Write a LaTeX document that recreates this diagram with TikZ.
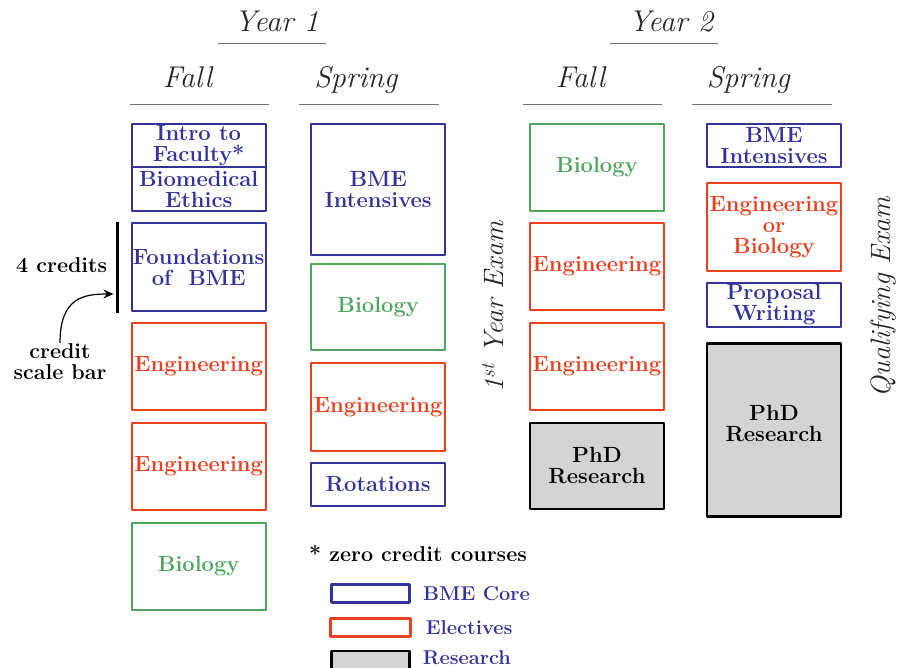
\documentclass[tikz,border=0pt]{standalone}
\usetikzlibrary{positioning,arrows.meta}
\definecolor{corebl}{RGB}{51,51,153}
\definecolor{elecred}{RGB}{232,64,32}
\definecolor{biogrn}{RGB}{80,165,95}
\definecolor{resgray}{RGB}{212,212,212}
\tikzset{
  course/.style={draw,line width=2pt,minimum width=134pt,inner sep=1pt,align=center,
    font=\fontsize{22}{21}\selectfont\bfseries},
  core/.style={course,draw=corebl,text=corebl},
  elec/.style={course,draw=elecred,text=elecred},
  bio/.style={course,draw=biogrn,text=biogrn},
  res/.style={course,draw=black,line width=2.5pt,fill=resgray,text=black},
  term/.style={font=\fontsize{30}{34}\selectfont\itshape,text=black!85,inner sep=0pt},
  exam/.style={term,font=\fontsize{28}{32}\selectfont\itshape},
  rule/.style={draw=black!55,line width=1.3pt},
  note/.style={font=\fontsize{21.5}{21}\selectfont\bfseries,align=center,inner sep=1pt},
  key/.style={minimum width=78pt,minimum height=17.7pt,line width=3pt,inner sep=0pt},
  keytext/.style={font=\fontsize{20}{22}\selectfont\bfseries,text=corebl,inner sep=0pt}
}
\begin{document}
\begin{tikzpicture}[x=1pt,y=-1pt,>={Stealth[length=10pt,width=9pt]},line join=round]
	\useasboundingbox (0,0) rectangle (904,668);
	% Cot cho moi hoc ky
	\def\xfa{198.7}
	\def\xsa{378.2}
	\def\xfb{597}
	\def\xsb{774}
	% Tieu de nam va hoc ky
	\node [term,anchor=base] (yearone) at (276.7,31.7) {Year 1};
	\node [term,anchor=base] (yeartwo) at (670.8,31.7) {Year 2};
	\node [term,anchor=base] (fallone) at (187.5,88) {Fall};
	\node [term,anchor=base] (springone) at (355.8,88) {Spring};
	\node [term,anchor=base] (falltwo) at (580.5,88) {Fall};
	\node [term,anchor=base] (springtwo) at (748.3,88) {Spring};
	\draw [rule] (217.7,43.7)--(326,43.7) (610,43.7)--(718,43.7);
	\draw [rule] (130,104.3)--(269.3,104.3) (299.3,104.3)--(439.3,104.3)
		(522.7,104.3)--(662.3,104.3) (692,104.3)--(831.7,104.3);
	% Nam 1, hoc ky mua thu
	\node [core,minimum height=43.3pt] (intro) at (\xfa,145.35) {Intro to\\Faculty*};
	\node [core,minimum height=44.3pt] (ethics) at (\xfa,189.15) {Biomedical\\Ethics};
	\node [core,minimum height=87.7pt] (found) at (\xfa,267.2) {Foundations\\of~ BME};
	\node [elec,minimum height=87pt] (engfa) at (\xfa,366.5) {Engineering};
	\node [elec,minimum height=87pt] (engfb) at (\xfa,466.5) {Engineering};
	\node [bio,minimum height=87pt] (biofa) at (\xfa,566.2) {Biology};
	% Nam 1, hoc ky mua xuan
	\node [core,minimum height=131.3pt] (intensa) at (\xsa,189.4) {BME\\Intensives};
	\node [bio,minimum height=86.3pt] (biosa) at (\xsa,306.9) {Biology};
	\node [elec,minimum height=87.7pt] (engsa) at (\xsa,406.9) {Engineering};
	\node [core,minimum height=43pt] (rot) at (\xsa,484.2) {Rotations};
	% Nam 2, hoc ky mua thu
	\node [bio,minimum height=87pt] (biofb) at (\xfb,167.2) {Biology};
	\node [elec,minimum height=87pt] (engfc) at (\xfb,266.5) {Engineering};
	\node [elec,minimum height=87pt] (engfd) at (\xfb,366.5) {Engineering};
	\node [res,minimum height=86pt] (phdfb) at (\xfb,465.9) {PhD\\Research};
	% Nam 2, hoc ky mua xuan
	\node [core,minimum height=43.6pt] (intensb) at (\xsb,145.5) {BME\\Intensives};
	\node [elec,minimum height=88.6pt] (engbio) at (\xsb,227) {Engineering\\or\\Biology};
	\node [core,minimum height=44.6pt] (prop) at (\xsb,305) {Proposal\\Writing};
	\node [res,minimum height=173.2pt,text depth=14pt] (phdsb) at (\xsb,429.9) {PhD\\Research};
	% Cac ky thi
	\node [exam,rotate=90] (firstexam) at (493,307) {1\textsuperscript{st} Year Exam};
	\node [exam,rotate=90] (qualexam) at (883,297) {Qualifying Exam};
	% Thang do tin chi
	\coordinate (bartop) at (117.7,222);
	\coordinate (barbot) at (117.7,313);
	\coordinate (bararrow) at (113.5,294);
	\draw [line width=2.5pt] (bartop)--(barbot);
	\node [note] (credits) at (61.7,265) {4 credits};
	\node [note] (scale) at (60,362) {credit\\scale bar};
	\draw [->,line width=1.2pt] (scale.north) .. controls +(0,-45) and +(-30,0) .. (bararrow);
	% Chu thich
	\node [note,anchor=base west,inner sep=0pt] (zero) at (309,561.7) {* zero credit courses};
	\node [key,draw=corebl] (corekey) at (370.5,593.7) {};
	\node [key,draw=elecred,minimum width=79.7pt,minimum height=18.6pt] (eleckey) at (370.3,627.5) {};
	\node [key,draw=black,line width=2.5pt,fill=resgray] (reskey) at (370.3,660) {};
	\node [keytext,right=12pt of corekey] (corelbl) {BME Core};
	\node [keytext,right=14pt of eleckey] (eleclbl) {Electives};
	\node [keytext,right=12pt of reskey,yshift=2pt] (reslbl) {Research};
\end{tikzpicture}
\end{document}
